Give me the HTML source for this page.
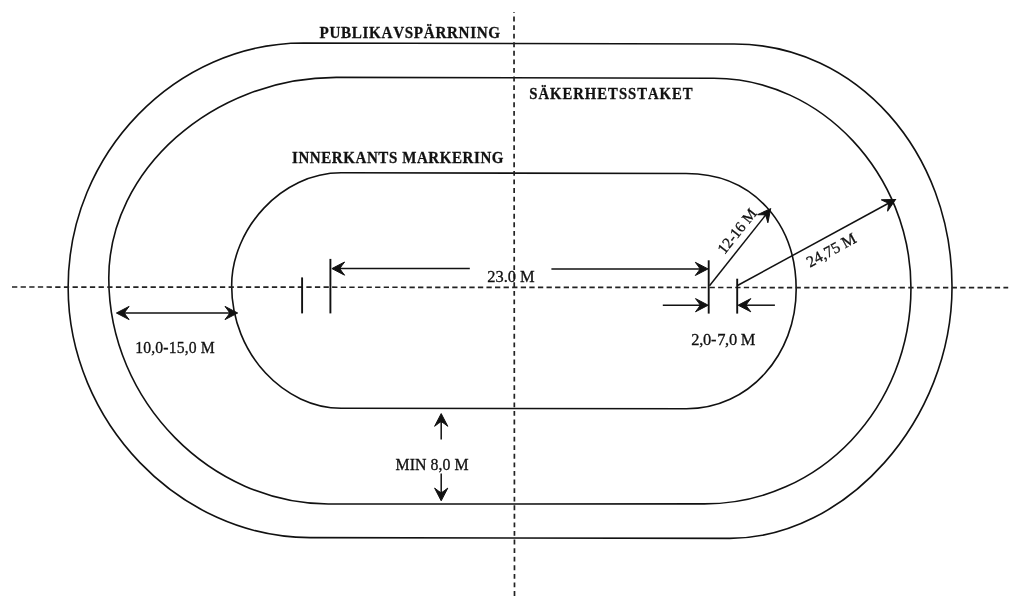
<!DOCTYPE html>
<html><head><meta charset="utf-8"><style>
html,body{margin:0;padding:0;background:#fff;overflow:hidden;}
svg{display:block;will-change:transform;}
text{font-family:"Liberation Serif",serif;fill:#111;font-kerning:none;stroke:#111;stroke-width:0.3px;}
.s{fill:none;stroke:#111;stroke-width:1.6;}
.d{stroke:#222;stroke-width:1.7;}
</style></head><body>
<svg width="1024" height="606" viewBox="0 0 1024 606">
<rect width="1024" height="606" fill="#fff"/>
<path class="s" d="M303.29,43L734.26,44C856.63,44 952.03,152.02 952.03,286.78C952.03,420.15 845.9,538.4 729.75,538.4L310.04,537.6C178.95,537.6 68.14,421.15 68.14,287.36C68.14,152.51 176.42,43 303.29,43Z"/>
<path class="s" d="M336.19,77.4L713.84,78.3C821.4,78.3 910.96,174.51 910.96,288C910.96,406.64 820.56,503.9 704.34,503.9L328.19,504C211.95,504 108.77,402.36 108.77,278.08C108.77,170.54 212.37,77.4 336.19,77.4Z"/>
<path class="s" d="M341.12,172.8L686.06,173.5C753.17,173.5 796.18,223.41 796.18,289.59C796.18,354.63 749.21,408.7 686.37,408.7L341.15,408.3C285.61,408.3 231.66,355.26 231.66,285.49C231.66,229.33 281.2,172.8 341.12,172.8Z"/>
<path class="d" d="M12.00,287.00L17.30,287.00M20.62,287.01L25.92,287.01M29.24,287.01L34.54,287.02M37.87,287.02L43.17,287.02M46.54,287.02L51.84,287.03M55.21,287.03L60.51,287.03M63.88,287.04L69.18,287.04M72.55,287.04L77.85,287.05M81.22,287.05L86.52,287.05M89.89,287.05L95.19,287.06M98.56,287.06L103.86,287.06M107.23,287.07L112.53,287.07M115.90,287.07L121.20,287.08M124.57,287.08L129.87,287.08M133.24,287.09L138.54,287.09M141.91,287.09L147.21,287.10M150.58,287.10L155.88,287.10M159.25,287.10L164.55,287.11M167.92,287.11L173.22,287.11M176.59,287.12L181.89,287.12M185.26,287.12L190.56,287.13M193.92,287.13L199.22,287.13M202.58,287.13L207.88,287.14M211.25,287.14L216.55,287.14M219.91,287.15L225.21,287.15M228.58,287.15L233.88,287.16M237.24,287.16L242.54,287.16M245.90,287.16L251.20,287.17M254.57,287.17L259.87,287.17M263.23,287.18L268.53,287.18M271.90,287.18L277.20,287.19M280.55,287.19L285.85,287.19M289.14,287.19L294.44,287.20M297.74,287.20L303.04,287.20M306.34,287.21L311.64,287.21M314.93,287.21L320.23,287.22M323.53,287.22L328.83,287.22M332.13,287.22L337.43,287.23M340.73,287.23L346.03,287.23M349.32,287.24L354.62,287.24M357.92,287.24L363.22,287.25M366.52,287.25L371.82,287.25M375.11,287.26L380.41,287.26M383.71,287.26L389.01,287.26M392.31,287.27L397.61,287.27M400.91,287.27L406.21,287.28M409.50,287.28L414.80,287.28M418.05,287.29L423.35,287.29M426.60,287.29L431.90,287.30M435.15,287.30L440.45,287.30M443.70,287.30L449.00,287.31M452.25,287.31L457.55,287.31M460.80,287.32L466.10,287.32M469.35,287.32L474.65,287.33M477.90,287.33L483.20,287.33M486.45,287.33L491.75,287.34M495.00,287.34L500.30,287.34M503.57,287.35L508.87,287.35M512.16,287.35L517.46,287.36M520.75,287.36L526.05,287.36M529.34,287.36L534.64,287.37M537.93,287.37L543.23,287.37M546.51,287.38L551.81,287.38M555.10,287.38L560.40,287.39M563.69,287.39L568.99,287.39M572.28,287.39L577.58,287.40M580.86,287.40L586.16,287.40M589.45,287.41L594.75,287.41M598.04,287.41L603.34,287.42M606.63,287.42L611.93,287.42M615.22,287.42L620.52,287.43M623.80,287.43L629.10,287.43M632.38,287.44L637.68,287.44M640.96,287.44L646.26,287.45M649.53,287.45L654.83,287.45M658.10,287.45L663.40,287.46M666.67,287.46L671.97,287.46M675.25,287.47L680.55,287.47M683.82,287.47L689.12,287.48M692.39,287.48L697.69,287.48M700.97,287.48L706.27,287.49M709.54,287.49L714.84,287.49M718.11,287.50L723.41,287.50M726.69,287.50L731.99,287.51M735.26,287.51L740.56,287.51M743.83,287.51L749.13,287.52M752.41,287.52L757.71,287.52M760.98,287.53L766.28,287.53M769.62,287.53L774.92,287.54M778.26,287.54L783.56,287.54M786.90,287.54L792.20,287.55M795.54,287.55L800.84,287.55M804.18,287.56L809.48,287.56M812.82,287.56L818.12,287.57M821.46,287.57L826.76,287.57M830.12,287.57L835.42,287.58M838.81,287.58L844.11,287.58M847.49,287.59L852.79,287.59M856.17,287.59L861.47,287.60M864.86,287.60L870.16,287.60M873.54,287.61L878.84,287.61M882.22,287.61L887.52,287.62M890.91,287.62L896.21,287.62M899.59,287.62L904.89,287.63M908.27,287.63L913.57,287.63M916.96,287.64L922.26,287.64M925.64,287.64L930.94,287.65M934.33,287.65L939.63,287.65M942.98,287.65L948.28,287.66M951.62,287.66L956.92,287.66M960.26,287.67L965.56,287.67M968.89,287.67L974.19,287.68M977.53,287.68L982.83,287.68M986.17,287.68L991.47,287.69M994.79,287.69L1000.09,287.69M1003.42,287.70L1008.20,287.70"/>
<line class="d" x1="514" y1="12" x2="514.5" y2="596" stroke-dasharray="4.85 3.724" stroke-dashoffset="4.0"/>
<g stroke="#111" fill="#111"><line x1="302.1" y1="277.4" x2="302.1" y2="313.4" stroke-width="1.9"/><line x1="330.4" y1="258.9" x2="330.4" y2="313.4" stroke-width="1.9"/><line x1="708.7" y1="260.3" x2="708.7" y2="313.6" stroke-width="1.9"/><line x1="737.2" y1="278.7" x2="737.2" y2="313.6" stroke-width="1.9"/><line x1="338" y1="268.6" x2="469.8" y2="268.6" stroke-width="1.5"/><path d="M0,0 L-12.7,-6.6 Q-9.5,-2.5 -7.9,0 Q-9.5,2.5 -12.7,6.6 Z" transform="translate(331.9,268.6) rotate(180)"/><line x1="551.4" y1="268.9" x2="702" y2="268.9" stroke-width="1.5"/><path d="M0,0 L-12.7,-6.6 Q-9.5,-2.5 -7.9,0 Q-9.5,2.5 -12.7,6.6 Z" transform="translate(708,268.9) rotate(0)"/><line x1="122" y1="313" x2="231" y2="313" stroke-width="1.5"/><path d="M0,0 L-12.7,-6.6 Q-9.5,-2.5 -7.9,0 Q-9.5,2.5 -12.7,6.6 Z" transform="translate(116.4,313) rotate(180)"/><path d="M0,0 L-12.7,-6.6 Q-9.5,-2.5 -7.9,0 Q-9.5,2.5 -12.7,6.6 Z" transform="translate(237.7,313) rotate(0)"/><line x1="441.2" y1="420" x2="441.2" y2="439.6" stroke-width="1.5"/><path d="M0,0 L-12.7,-6.6 Q-9.5,-2.5 -7.9,0 Q-9.5,2.5 -12.7,6.6 Z" transform="translate(441.2,413.6) rotate(-90)"/><line x1="441.2" y1="473.5" x2="441.2" y2="495" stroke-width="1.5"/><path d="M0,0 L-12.7,-6.6 Q-9.5,-2.5 -7.9,0 Q-9.5,2.5 -12.7,6.6 Z" transform="translate(441.2,500.8) rotate(90)"/><line x1="662.8" y1="305.2" x2="702" y2="305.2" stroke-width="1.5"/><path d="M0,0 L-12.7,-6.6 Q-9.5,-2.5 -7.9,0 Q-9.5,2.5 -12.7,6.6 Z" transform="translate(708.2,305.2) rotate(0)"/><line x1="744" y1="305.2" x2="774.9" y2="305.2" stroke-width="1.5"/><path d="M0,0 L-12.7,-6.6 Q-9.5,-2.5 -7.9,0 Q-9.5,2.5 -12.7,6.6 Z" transform="translate(738.1,305.2) rotate(180)"/><line x1="709.5" y1="285.7" x2="765.62" y2="215.06" stroke-width="1.5"/><path d="M0,0 L-12.7,-6.6 Q-9.5,-2.5 -7.9,0 Q-9.5,2.5 -12.7,6.6 Z" transform="translate(770.6,208.8) rotate(-51.53)"/><line x1="737.5" y1="285.5" x2="888.48" y2="203.23" stroke-width="1.5"/><path d="M0,0 L-12.7,-6.6 Q-9.5,-2.5 -7.9,0 Q-9.5,2.5 -12.7,6.6 Z" transform="translate(895.5,199.4) rotate(-28.59)"/></g>
<text transform="translate(319.5,37.9) scale(0.93,1)" font-size="16.3" font-weight="bold" letter-spacing="0.722">PUBLIKAVSPÄRRNING</text>
<text transform="translate(529.25,98.6) scale(0.93,1)" font-size="15.85" font-weight="bold" letter-spacing="1.043">SÄKERHETSSTAKET</text>
<text transform="translate(292.0,162.8) scale(0.93,1)" font-size="16.15" font-weight="bold" letter-spacing="0.626">INNERKANTS MARKERING</text>
<text transform="translate(487.25,281.6)" font-size="16.45" letter-spacing="-0.02">23.0 M</text>
<text transform="translate(135.25,352.6)" font-size="15.7" letter-spacing="0.155">10,0-15,0 M</text>
<text transform="translate(395.5,469.5)" font-size="15.85" letter-spacing="0.062">MIN 8,0 M</text>
<text transform="translate(691.25,344.8)" font-size="16.45" letter-spacing="-0.295">2,0-<tspan dx="1.1">7,0 M</tspan></text>
<text transform="translate(724.4,255.1) rotate(-51.53)" font-size="15.3">12-16 M</text>
<text transform="translate(810,267.7) rotate(-28.59)" font-size="16">24,75 M</text>
</svg>
</body></html>
